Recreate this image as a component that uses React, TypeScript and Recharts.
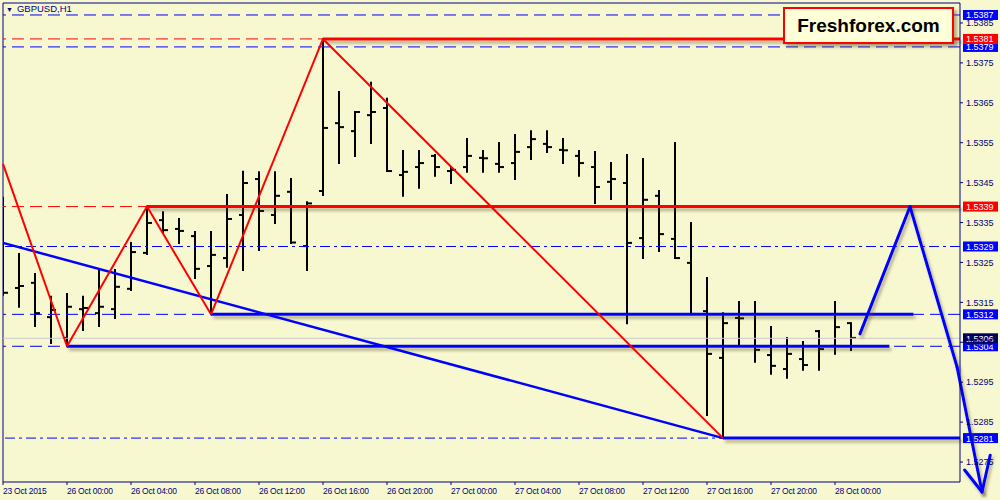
import { ComposedChart, Bar, XAxis, YAxis, ReferenceLine } from 'recharts'

const NAVY = '#000080'
const BLUE = '#0000ff'
const RED = '#ff0000'
const BG = '#f8f8d0'
const FONT = '"Liberation Sans", Arial, sans-serif'

// GBPUSD H1 bars, 23 Oct 20:00 .. 28 Oct 01:00
const opens = [
  1.53306, 1.53186, 1.53199, 1.53113, 1.53061, 1.53133, 1.53123, 1.53133, 1.53184, 1.53274,
  1.53356, 1.53334, 1.53316, 1.53241, 1.53261, 1.53369, 1.53459, 1.53369, 1.53427, 1.53291,
  1.53429, 1.53599, 1.53579, 1.53619, 1.53637, 1.53469, 1.53489, 1.53517, 1.53479, 1.53489,
  1.53512, 1.53497, 1.53499, 1.53539, 1.53547, 1.53532, 1.53517, 1.53489, 1.53452, 1.53449,
  1.53311, 1.53417, 1.53309, 1.53249, 1.53128, 1.53011, 1.53111, 1.53121, 1.53018, 1.52983,
  1.53008, 1.53078, 1.53041, 1.53098,
]
const highs = [
  1.53412, 1.53271, 1.53221, 1.53164, 1.53171, 1.53164, 1.53231, 1.53231, 1.53299, 1.5339,
  1.53376, 1.53359, 1.53326, 1.53326, 1.53419, 1.53477, 1.53476, 1.53476, 1.53459, 1.53401,
  1.5381, 1.53677, 1.53627, 1.537, 1.5366, 1.53529, 1.53529, 1.53519, 1.53489, 1.53559,
  1.53529, 1.53549, 1.53569, 1.53579, 1.53579, 1.53559, 1.53529, 1.53527, 1.53499, 1.53519,
  1.53509, 1.53429, 1.53549, 1.53349, 1.53211, 1.53123, 1.53151, 1.53151, 1.53088, 1.53061,
  1.53051, 1.53078, 1.53151, 1.53098,
]
const lows = [
  1.53169, 1.53139, 1.53091, 1.53048, 1.5304, 1.53081, 1.53091, 1.53111, 1.53181, 1.53271,
  1.53326, 1.53299, 1.53211, 1.5312, 1.53239, 1.53231, 1.53281, 1.53349, 1.53299, 1.53231,
  1.53419, 1.53499, 1.53517, 1.53549, 1.53479, 1.53417, 1.53437, 1.53467, 1.53449, 1.53477,
  1.53477, 1.53477, 1.53459, 1.53509, 1.53527, 1.53499, 1.53467, 1.53399, 1.53409, 1.53098,
  1.53261, 1.53279, 1.53261, 1.5312, 1.52868, 1.5281, 1.53041, 1.53001, 1.52971, 1.52961,
  1.52981, 1.52981, 1.53021, 1.53031,
]
const closes = [
  1.53174, 1.53191, 1.53123, 1.53131, 1.53139, 1.53136, 1.53139, 1.53189, 1.53276, 1.53349,
  1.53331, 1.53329, 1.53234, 1.53269, 1.53359, 1.53449, 1.53379, 1.53417, 1.533, 1.53398,
  1.53587, 1.53589, 1.53627, 1.53627, 1.53479, 1.53477, 1.53499, 1.53489, 1.53482, 1.53517,
  1.53511, 1.53489, 1.53527, 1.53559, 1.53539, 1.53531, 1.53499, 1.53439, 1.53459, 1.53299,
  1.53407, 1.53321, 1.53261, 1.53121, 1.53021, 1.53098, 1.5311, 1.53031, 1.52991, 1.53021,
  1.52993, 1.53033, 1.53088, 1.53061,
]

const xTicks = [0, 4, 8, 12, 16, 20, 24, 28, 32, 36, 40, 44, 48, 52]
const xTickLabels = [
  '23 Oct 2015', '26 Oct 00:00', '26 Oct 04:00', '26 Oct 08:00', '26 Oct 12:00',
  '26 Oct 16:00', '26 Oct 20:00', '27 Oct 00:00', '27 Oct 04:00', '27 Oct 08:00',
  '27 Oct 12:00', '27 Oct 16:00', '27 Oct 20:00', '28 Oct 00:00',
]
const yTicks = [
  1.5275, 1.5285, 1.5295, 1.5305, 1.5315, 1.5325, 1.5335, 1.5345, 1.5355, 1.5365, 1.5375, 1.5385,
]
const X_MAX = 59.8125
const Y_MIN = 1.527
const Y_MAX = 1.539

// horizontal levels, in drawing order (red 1.5381 tag sits over blue 1.5379)
const levels = [
  { price: 1.5387, kind: 'dash', color: BLUE, tag: BLUE },
  { price: 1.5379, kind: 'dash', color: BLUE, tag: BLUE },
  { price: 1.5381, kind: 'dash', color: RED, tag: RED },
  { price: 1.5339, kind: 'dash', color: RED, tag: RED },
  { price: 1.5329, kind: 'dashdot', color: BLUE, tag: BLUE },
  { price: 1.5312, kind: 'dash', color: BLUE, tag: BLUE },
  { price: 1.5304, kind: 'dash', color: BLUE, tag: BLUE },
  { price: 1.5306, kind: 'solid', color: '#c8c8d0', tag: '#000060' },
  { price: 1.5281, kind: 'dashdot', color: BLUE, tag: BLUE },
]
// solid parts of the levels (bar index from / to)
const solidLevels = [
  { price: 1.5381, from: 20, to: X_MAX, color: RED },
  { price: 1.5339, from: 9, to: X_MAX, color: RED },
  { price: 1.5312, from: 13, to: 56.9, color: BLUE },
  { price: 1.5304, from: 4, to: 55.4, color: BLUE },
  { price: 1.5281, from: 45, to: X_MAX, color: BLUE },
]

const redWave = [
  [0, 1.53497], [4, 1.5304], [9, 1.5339], [13, 1.5312], [20, 1.5381], [45, 1.5281],
]
const blueTrend = [[0, 1.53299], [45, 1.5281]]
const projection = [[53.56, 1.53071], [56.69, 1.5339], [59.63, 1.52988], [61.19, 1.52675]]
const arrowHead = [[60.1, 1.5273], [61.19, 1.52675], [61.7, 1.52767]]

const data = opens.map((o, i) => ({
  i,
  o,
  h: highs[i],
  l: lows[i],
  c: closes[i],
  range: [lows[i], highs[i]],
}))

const dashes: Record<string, string | undefined> = {
  dash: '12 6',
  dashdot: '10 4 3 4',
  solid: undefined,
}

const pairs = (pts: number[][]) => pts.slice(1).map((p, k) => [pts[k], p])

function OhlcBar(props: any) {
  const { x, y, width, height, payload } = props
  if (x == null || !payload) return null
  const cx = Math.round(x + width / 2)
  const top = Math.min(y, y + height)
  const h = Math.abs(height)
  const span = payload.h - payload.l || 1
  const yOf = (v: number) => top + ((payload.h - v) / span) * h
  const yo = yOf(payload.o)
  const yc = yOf(payload.c)
  return (
    <g stroke="#000" strokeWidth={2}>
      <line x1={cx} x2={cx} y1={top - 1} y2={top + h + 1} />
      <line x1={cx - 4} x2={cx} y1={yo} y2={yo} />
      <line x1={cx} x2={cx + 5} y1={yc} y2={yc} />
    </g>
  )
}

function PriceTag({ viewBox, text, fill }: any) {
  if (!viewBox) return null
  const x = viewBox.x + viewBox.width + 3
  const y = viewBox.y
  return (
    <g>
      <rect x={x} y={y - 5} width={35} height={10} fill={fill} />
      <text x={x + 3} y={y + 3.5} fill="#fff" fontSize={9} fontFamily={FONT}>
        {text}
      </text>
    </g>
  )
}

function XTick({ x, y, payload }: any) {
  const k = xTicks.indexOf(payload.value)
  return (
    <text x={x} y={y + 7} fill={NAVY} fontSize={8.5} letterSpacing={-0.25} fontFamily={FONT}>
      {xTickLabels[k]}
    </text>
  )
}

export default function App() {
  return (
    <div style={{ position: 'absolute', left: 0, top: 0, width: 1000, height: 500, background: BG }}>
      <ComposedChart
        width={1000}
        height={500}
        data={data}
        margin={{ top: 3, right: 0, bottom: 0, left: 3 }}
      >
        <defs>
          <filter id="shadow" filterUnits="userSpaceOnUse" x="0" y="0" width="1000" height="500">
            <feDropShadow dx="2" dy="3" stdDeviation="1.8" floodColor="#5a5030" floodOpacity="0.45" />
          </filter>
        </defs>
        <XAxis
          type="number"
          dataKey="i"
          domain={[0, X_MAX]}
          allowDataOverflow
          ticks={xTicks}
          interval={0}
          height={18}
          tickSize={3}
          tickMargin={2}
          stroke={NAVY}
          tick={<XTick />}
        />
        <YAxis
          orientation="right"
          type="number"
          domain={[Y_MIN, Y_MAX]}
          allowDataOverflow
          ticks={yTicks}
          interval={0}
          width={40}
          tickSize={3}
          tickMargin={3}
          stroke={NAVY}
          tick={{ fill: NAVY, fontSize: 9, fontFamily: FONT }}
          tickFormatter={(v: number) => v.toFixed(4)}
        />
        <Bar dataKey="range" barSize={6} shape={<OhlcBar />} isAnimationActive={false} />

        <ReferenceLine x={0} stroke={NAVY} />
        <ReferenceLine y={Y_MAX} stroke={NAVY} />

        {levels.map((lv) => (
          <ReferenceLine
            key={'lv' + lv.price}
            y={lv.price}
            stroke={lv.color}
            strokeWidth={1}
            strokeDasharray={dashes[lv.kind]}
            label={<PriceTag text={lv.price.toFixed(4)} fill={lv.tag} />}
          />
        ))}

        {solidLevels.map((s) => (
          <ReferenceLine
            key={'sl' + s.price}
            segment={[{ x: s.from, y: s.price }, { x: s.to, y: s.price }]}
            stroke={s.color}
            strokeWidth={3}
            filter="url(#shadow)"
          />
        ))}

        {pairs(blueTrend).map(([a, b], k) => (
          <ReferenceLine
            key={'bt' + k}
            segment={[{ x: a[0], y: a[1] }, { x: b[0], y: b[1] }]}
            stroke={BLUE}
            strokeWidth={2.5}
            ifOverflow="visible"
          />
        ))}

        {pairs(redWave).map(([a, b], k) => (
          <ReferenceLine
            key={'rw' + k}
            segment={[{ x: a[0], y: a[1] }, { x: b[0], y: b[1] }]}
            stroke={RED}
            strokeWidth={2}
            ifOverflow="visible"
          />
        ))}

        {pairs(projection)
          .concat(pairs(arrowHead))
          .map(([a, b], k) => (
            <ReferenceLine
              key={'pj' + k}
              segment={[{ x: a[0], y: a[1] }, { x: b[0], y: b[1] }]}
              stroke={BLUE}
              strokeWidth={3}
              strokeLinecap="round"
              filter="url(#shadow)"
              ifOverflow="visible"
            />
          ))}
      </ComposedChart>

      <div
        style={{
          position: 'absolute',
          left: 6,
          top: 3,
          fontFamily: FONT,
          fontSize: 9.5,
          color: NAVY,
          whiteSpace: 'nowrap',
        }}
      >
        <span style={{ fontSize: 7, marginRight: 4 }}>▼</span>GBPUSD,H1
      </div>

      <div
        style={{
          position: 'absolute',
          left: 783,
          top: 7,
          width: 167,
          height: 33,
          border: '2px solid #ff0000',
          background: '#ffffd8',
          boxShadow: '3px 3px 3px rgba(90,80,40,0.45)',
          fontFamily: FONT,
          fontWeight: 'bold',
          fontSize: 19,
          lineHeight: '33px',
          textAlign: 'center',
          color: '#000',
        }}
      >
        Freshforex.com
      </div>
    </div>
  )
}
